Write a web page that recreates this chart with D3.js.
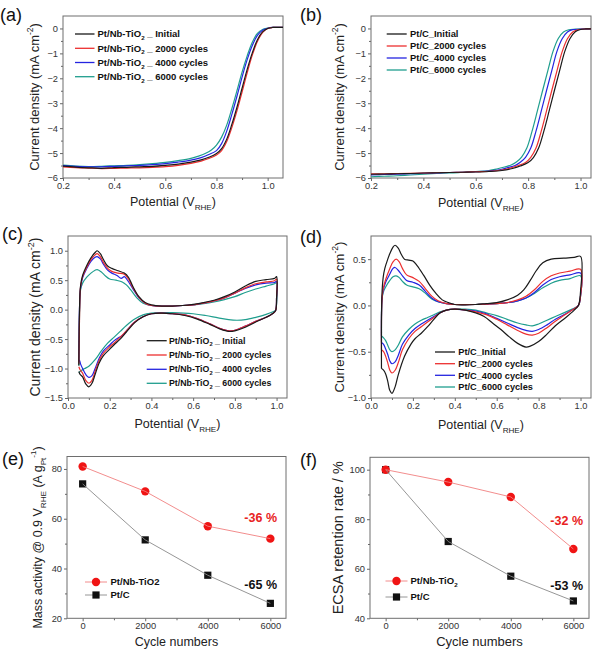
<!DOCTYPE html>
<html>
<head>
<meta charset="utf-8">
<script src="https://cdn.jsdelivr.net/npm/d3@7"></script>
<style>
  body { margin: 0; background: #fff; }
  svg { display: block; font-family: "Liberation Sans", Arial, sans-serif; }
  .tick text { fill: #333; }
  .tick line { stroke: #666; }
</style>
</head>
<body>
<div id="chart"></div>
<script>
// ---- (a) LSV, Pt/Nb-TiO2 : [potential V, current mA cm-2]
var nbLsvInitial = [[0.20,-5.52],[0.25,-5.56],[0.30,-5.59],[0.35,-5.61],[0.40,-5.58],[0.45,-5.57],[0.50,-5.55],[0.55,-5.53],[0.60,-5.49],[0.65,-5.44],[0.70,-5.36],[0.74,-5.27],[0.77,-5.17],[0.80,-5.02],[0.82,-4.82],[0.84,-4.44],[0.86,-3.85],[0.88,-3.16],[0.90,-2.40],[0.92,-1.64],[0.94,-0.98],[0.96,-0.45],[0.98,-0.14],[1.00,0.00],[1.02,0.04],[1.06,0.04]];
var nbLsv2000 = [[0.20,-5.55],[0.25,-5.58],[0.30,-5.60],[0.35,-5.62],[0.40,-5.61],[0.45,-5.60],[0.50,-5.59],[0.55,-5.57],[0.60,-5.54],[0.65,-5.49],[0.70,-5.41],[0.74,-5.32],[0.77,-5.22],[0.80,-5.08],[0.82,-4.90],[0.84,-4.54],[0.86,-3.98],[0.88,-3.31],[0.90,-2.55],[0.92,-1.78],[0.94,-1.07],[0.96,-0.52],[0.98,-0.17],[1.00,0.00],[1.02,0.04],[1.06,0.04]];
var nbLsv4000 = [[0.20,-5.50],[0.25,-5.53],[0.30,-5.55],[0.35,-5.55],[0.40,-5.53],[0.45,-5.51],[0.50,-5.49],[0.55,-5.46],[0.60,-5.42],[0.65,-5.36],[0.70,-5.28],[0.74,-5.18],[0.77,-5.06],[0.80,-4.90],[0.82,-4.62],[0.84,-4.12],[0.86,-3.45],[0.88,-2.72],[0.90,-1.95],[0.92,-1.25],[0.94,-0.68],[0.96,-0.28],[0.98,-0.07],[1.00,0.01],[1.02,0.04],[1.06,0.04]];
var nbLsv6000 = [[0.20,-5.48],[0.25,-5.52],[0.30,-5.54],[0.35,-5.53],[0.40,-5.51],[0.45,-5.49],[0.50,-5.46],[0.55,-5.42],[0.60,-5.37],[0.65,-5.30],[0.70,-5.21],[0.73,-5.12],[0.76,-5.00],[0.78,-4.88],[0.80,-4.68],[0.82,-4.36],[0.84,-3.88],[0.86,-3.22],[0.88,-2.50],[0.90,-1.75],[0.92,-1.10],[0.94,-0.55],[0.96,-0.20],[0.98,-0.04],[1.00,0.01],[1.02,0.04],[1.06,0.04]];

// ---- (b) LSV, Pt/C
var ptcLsvInitial = [[0.20,-5.85],[0.25,-5.84],[0.30,-5.83],[0.35,-5.82],[0.40,-5.80],[0.45,-5.79],[0.50,-5.78],[0.55,-5.77],[0.60,-5.76],[0.65,-5.74],[0.70,-5.70],[0.74,-5.62],[0.77,-5.52],[0.80,-5.38],[0.82,-5.18],[0.84,-4.80],[0.86,-4.12],[0.88,-3.32],[0.90,-2.50],[0.92,-1.70],[0.94,-0.92],[0.96,-0.40],[0.98,-0.13],[1.00,-0.04],[1.02,-0.02],[1.04,-0.02]];
var ptcLsv2000 = [[0.20,-5.83],[0.25,-5.83],[0.30,-5.82],[0.35,-5.81],[0.40,-5.80],[0.45,-5.79],[0.50,-5.78],[0.55,-5.77],[0.60,-5.75],[0.65,-5.73],[0.70,-5.68],[0.73,-5.61],[0.76,-5.51],[0.79,-5.38],[0.81,-5.17],[0.83,-4.80],[0.85,-4.12],[0.87,-3.32],[0.89,-2.50],[0.91,-1.70],[0.93,-0.93],[0.95,-0.41],[0.97,-0.14],[0.99,-0.05],[1.02,-0.02],[1.04,-0.02]];
var ptcLsv4000 = [[0.20,-5.88],[0.25,-5.86],[0.30,-5.85],[0.35,-5.83],[0.40,-5.81],[0.45,-5.80],[0.50,-5.78],[0.55,-5.77],[0.60,-5.75],[0.65,-5.72],[0.70,-5.65],[0.72,-5.59],[0.75,-5.50],[0.77,-5.37],[0.79,-5.17],[0.81,-4.80],[0.83,-4.12],[0.85,-3.32],[0.87,-2.50],[0.89,-1.70],[0.91,-0.92],[0.93,-0.41],[0.95,-0.14],[0.97,-0.05],[1.00,-0.03],[1.04,-0.02]];
var ptcLsv6000 = [[0.20,-5.95],[0.25,-5.93],[0.30,-5.91],[0.35,-5.88],[0.40,-5.85],[0.45,-5.82],[0.50,-5.80],[0.55,-5.77],[0.60,-5.74],[0.65,-5.70],[0.68,-5.64],[0.71,-5.56],[0.735,-5.48],[0.755,-5.36],[0.775,-5.16],[0.795,-4.80],[0.815,-4.12],[0.835,-3.32],[0.855,-2.50],[0.875,-1.70],[0.895,-0.92],[0.915,-0.40],[0.935,-0.14],[0.955,-0.05],[0.98,-0.03],[1.04,-0.02]];

// ---- (c) CV, Pt/Nb-TiO2 (anodic sweep then cathodic sweep)
var nbCvInitial = [[0.052,-0.95],[0.055,0.0],[0.06,0.40],[0.07,0.58],[0.09,0.75],[0.11,0.88],[0.13,0.97],[0.14,1.0],[0.155,0.95],[0.17,0.85],[0.19,0.74],[0.21,0.70],[0.24,0.66],[0.27,0.62],[0.29,0.55],[0.31,0.40],[0.34,0.22],[0.37,0.12],[0.40,0.08],[0.45,0.06],[0.50,0.06],[0.55,0.07],[0.60,0.09],[0.65,0.12],[0.70,0.16],[0.75,0.22],[0.80,0.30],[0.85,0.40],[0.90,0.48],[0.95,0.51],[0.99,0.53],[1.0,0.56],[1.0,0.2],[0.995,-0.02],[0.98,-0.07],[0.95,-0.13],[0.90,-0.21],[0.85,-0.30],[0.80,-0.36],[0.77,-0.37],[0.73,-0.33],[0.68,-0.25],[0.62,-0.16],[0.56,-0.10],[0.50,-0.07],[0.45,-0.06],[0.40,-0.07],[0.36,-0.12],[0.32,-0.22],[0.28,-0.38],[0.25,-0.50],[0.22,-0.60],[0.20,-0.67],[0.17,-0.78],[0.15,-0.90],[0.13,-1.10],[0.115,-1.25],[0.10,-1.31],[0.085,-1.26],[0.07,-1.14],[0.058,-1.10],[0.052,-1.05]];
var nbCv2000 = [[0.052,-0.92],[0.056,0.0],[0.06,0.38],[0.07,0.56],[0.09,0.72],[0.11,0.85],[0.13,0.93],[0.14,0.95],[0.155,0.90],[0.17,0.80],[0.19,0.70],[0.21,0.65],[0.24,0.62],[0.27,0.60],[0.29,0.52],[0.31,0.38],[0.34,0.21],[0.37,0.11],[0.40,0.07],[0.45,0.06],[0.50,0.06],[0.55,0.07],[0.60,0.08],[0.65,0.11],[0.70,0.15],[0.75,0.20],[0.80,0.28],[0.85,0.37],[0.90,0.44],[0.95,0.47],[0.99,0.49],[1.0,0.52],[1.0,0.2],[0.995,-0.02],[0.98,-0.07],[0.95,-0.13],[0.90,-0.20],[0.85,-0.28],[0.80,-0.35],[0.77,-0.36],[0.73,-0.32],[0.68,-0.24],[0.62,-0.15],[0.56,-0.09],[0.50,-0.07],[0.45,-0.06],[0.40,-0.07],[0.36,-0.12],[0.32,-0.21],[0.28,-0.36],[0.25,-0.47],[0.22,-0.57],[0.20,-0.63],[0.17,-0.74],[0.15,-0.86],[0.13,-1.05],[0.115,-1.20],[0.10,-1.25],[0.085,-1.20],[0.07,-1.08],[0.058,-1.02],[0.052,-0.97]];
var nbCv4000 = [[0.052,-0.88],[0.055,0.0],[0.06,0.36],[0.07,0.54],[0.09,0.70],[0.11,0.82],[0.13,0.89],[0.14,0.90],[0.155,0.86],[0.17,0.77],[0.19,0.67],[0.21,0.62],[0.235,0.58],[0.255,0.53],[0.27,0.56],[0.285,0.50],[0.31,0.36],[0.34,0.20],[0.37,0.11],[0.40,0.07],[0.45,0.06],[0.50,0.06],[0.55,0.07],[0.60,0.08],[0.65,0.11],[0.70,0.15],[0.75,0.20],[0.80,0.28],[0.85,0.36],[0.90,0.42],[0.95,0.45],[0.99,0.46],[1.0,0.48],[1.0,0.2],[0.995,-0.02],[0.98,-0.07],[0.95,-0.13],[0.90,-0.20],[0.85,-0.28],[0.80,-0.35],[0.77,-0.36],[0.73,-0.32],[0.68,-0.24],[0.62,-0.15],[0.56,-0.09],[0.50,-0.07],[0.45,-0.06],[0.40,-0.07],[0.36,-0.12],[0.32,-0.21],[0.28,-0.36],[0.26,-0.44],[0.24,-0.48],[0.22,-0.53],[0.20,-0.60],[0.17,-0.70],[0.15,-0.82],[0.13,-1.0],[0.115,-1.12],[0.10,-1.15],[0.085,-1.10],[0.07,-1.0],[0.06,-0.92],[0.055,-0.86],[0.052,-0.88]];
var nbCv6000 = [[0.052,-0.95],[0.056,0.0],[0.06,0.33],[0.07,0.45],[0.09,0.55],[0.11,0.62],[0.13,0.67],[0.14,0.68],[0.16,0.64],[0.18,0.57],[0.20,0.52],[0.23,0.50],[0.26,0.47],[0.28,0.42],[0.30,0.34],[0.33,0.20],[0.36,0.11],[0.40,0.07],[0.45,0.06],[0.50,0.06],[0.55,0.07],[0.60,0.08],[0.65,0.10],[0.70,0.13],[0.75,0.17],[0.80,0.22],[0.85,0.29],[0.90,0.35],[0.95,0.40],[0.99,0.44],[1.0,0.46],[1.0,0.1],[0.995,-0.01],[0.98,-0.04],[0.95,-0.08],[0.90,-0.13],[0.85,-0.17],[0.81,-0.18],[0.77,-0.17],[0.72,-0.14],[0.66,-0.10],[0.60,-0.07],[0.50,-0.05],[0.44,-0.05],[0.40,-0.06],[0.36,-0.09],[0.32,-0.16],[0.28,-0.27],[0.25,-0.37],[0.22,-0.47],[0.19,-0.57],[0.16,-0.70],[0.13,-0.85],[0.10,-0.96],[0.08,-1.0],[0.065,-1.03],[0.052,-1.07]];

// ---- (d) CV, Pt/C
var ptcCvInitial = [[0.05,-0.68],[0.052,0.10],[0.058,0.30],[0.066,0.40],[0.08,0.50],[0.09,0.56],[0.105,0.63],[0.115,0.65],[0.13,0.62],[0.145,0.55],[0.16,0.50],[0.18,0.49],[0.20,0.48],[0.22,0.43],[0.25,0.33],[0.28,0.22],[0.31,0.13],[0.34,0.06],[0.37,0.03],[0.40,0.01],[0.45,0.005],[0.50,0.01],[0.55,0.02],[0.60,0.03],[0.65,0.06],[0.70,0.11],[0.73,0.17],[0.76,0.27],[0.79,0.38],[0.82,0.46],[0.86,0.50],[0.92,0.51],[0.97,0.52],[1.0,0.53],[1.0,0.15],[0.99,0.0],[0.97,-0.05],[0.93,-0.13],[0.88,-0.22],[0.84,-0.31],[0.80,-0.39],[0.76,-0.44],[0.74,-0.45],[0.70,-0.41],[0.66,-0.34],[0.62,-0.26],[0.58,-0.19],[0.54,-0.12],[0.50,-0.08],[0.45,-0.05],[0.40,-0.04],[0.36,-0.05],[0.33,-0.08],[0.30,-0.15],[0.27,-0.23],[0.24,-0.30],[0.21,-0.36],[0.19,-0.42],[0.16,-0.55],[0.13,-0.75],[0.115,-0.88],[0.10,-0.95],[0.09,-0.92],[0.08,-0.82],[0.07,-0.74],[0.06,-0.70],[0.05,-0.68]];
var ptcCv2000 = [[0.05,-0.48],[0.052,0.05],[0.058,0.18],[0.07,0.28],[0.09,0.40],[0.105,0.47],[0.12,0.50],[0.135,0.47],[0.15,0.40],[0.17,0.33],[0.20,0.30],[0.23,0.26],[0.26,0.18],[0.29,0.10],[0.32,0.05],[0.36,0.02],[0.40,0.01],[0.50,0.01],[0.60,0.02],[0.65,0.03],[0.70,0.06],[0.74,0.10],[0.78,0.17],[0.82,0.26],[0.86,0.32],[0.90,0.35],[0.95,0.37],[1.0,0.39],[1.0,0.1],[0.99,0.0],[0.96,-0.05],[0.92,-0.11],[0.88,-0.17],[0.84,-0.24],[0.80,-0.30],[0.77,-0.32],[0.74,-0.31],[0.70,-0.27],[0.65,-0.21],[0.60,-0.15],[0.55,-0.10],[0.50,-0.07],[0.45,-0.05],[0.40,-0.04],[0.36,-0.05],[0.33,-0.08],[0.30,-0.13],[0.27,-0.18],[0.24,-0.23],[0.21,-0.28],[0.18,-0.36],[0.15,-0.48],[0.13,-0.62],[0.115,-0.70],[0.10,-0.73],[0.09,-0.70],[0.08,-0.62],[0.07,-0.55],[0.06,-0.50],[0.05,-0.48]];
var ptcCv4000 = [[0.05,-0.40],[0.052,0.05],[0.058,0.16],[0.07,0.25],[0.09,0.34],[0.105,0.40],[0.115,0.41],[0.13,0.38],[0.15,0.32],[0.17,0.27],[0.20,0.25],[0.23,0.22],[0.26,0.15],[0.29,0.08],[0.32,0.04],[0.36,0.02],[0.40,0.01],[0.50,0.01],[0.60,0.02],[0.65,0.03],[0.70,0.05],[0.74,0.08],[0.78,0.14],[0.82,0.22],[0.86,0.28],[0.90,0.31],[0.95,0.33],[1.0,0.35],[1.0,0.1],[0.99,0.0],[0.96,-0.05],[0.92,-0.10],[0.88,-0.15],[0.84,-0.21],[0.80,-0.26],[0.77,-0.28],[0.74,-0.27],[0.70,-0.24],[0.65,-0.19],[0.60,-0.14],[0.55,-0.09],[0.50,-0.06],[0.45,-0.05],[0.40,-0.04],[0.36,-0.05],[0.33,-0.08],[0.30,-0.12],[0.27,-0.16],[0.24,-0.20],[0.21,-0.25],[0.18,-0.32],[0.15,-0.42],[0.13,-0.54],[0.115,-0.61],[0.10,-0.63],[0.09,-0.60],[0.08,-0.53],[0.07,-0.47],[0.06,-0.42],[0.05,-0.40]];
var ptcCv6000 = [[0.05,-0.33],[0.052,0.05],[0.058,0.14],[0.07,0.20],[0.09,0.27],[0.105,0.31],[0.12,0.32],[0.135,0.30],[0.15,0.26],[0.17,0.22],[0.20,0.20],[0.23,0.18],[0.26,0.13],[0.29,0.07],[0.32,0.04],[0.36,0.02],[0.40,0.01],[0.50,0.01],[0.60,0.02],[0.65,0.03],[0.70,0.05],[0.74,0.08],[0.78,0.13],[0.82,0.19],[0.86,0.24],[0.90,0.27],[0.95,0.29],[1.0,0.32],[1.0,0.1],[0.99,0.0],[0.96,-0.04],[0.92,-0.08],[0.88,-0.12],[0.84,-0.16],[0.80,-0.20],[0.77,-0.22],[0.74,-0.21],[0.70,-0.19],[0.65,-0.15],[0.60,-0.11],[0.55,-0.08],[0.50,-0.05],[0.45,-0.04],[0.40,-0.04],[0.36,-0.05],[0.33,-0.07],[0.30,-0.10],[0.27,-0.13],[0.24,-0.16],[0.21,-0.20],[0.18,-0.26],[0.15,-0.34],[0.13,-0.43],[0.115,-0.48],[0.10,-0.50],[0.09,-0.48],[0.08,-0.43],[0.07,-0.38],[0.06,-0.35],[0.05,-0.33]];

// ---- (e), (f) degradation
var cycles = [0, 2000, 4000, 6000];
var massNb = [81, 71, 57, 52];
var massPtC = [74, 51.5, 37.3, 26];
var ecsaNb = [100, 95, 89, 68];
var ecsaPtC = [100, 71, 57, 47];

var seriesColors = ["#1a1a1a", "#ec2f2f", "#2424e0", "#1f9e8e"];
var nbLegend = ["Initial", "2000 cycles", "4000 cycles", "6000 cycles"];
var ptcLegend = ["Pt/C_Initial", "Pt/C_2000 cycles", "Pt/C_4000 cycles", "Pt/C_6000 cycles"];

var svg = d3.select("#chart").append("svg")
    .attr("width", 594)
    .attr("height", 652);

// writes text made of pieces; a piece can be "sub" or "sup"
function rich(sel, parts, size) {
    var shift = 0;
    parts.forEach(function (p) {
        var target = p[1] === "sub" ? size * 0.3 : p[1] === "sup" ? -size * 0.45 : 0;
        var ts = sel.append("tspan").text(p[0]).attr("dy", target - shift);
        if (p[1]) ts.attr("font-size", size * 0.65);
        shift = target;
    });
    return sel;
}

var clipId = 0;
function panel(c) {
    var x = d3.scaleLinear().domain(c.xDomain).range([c.left, c.right]);
    var y = d3.scaleLinear().domain(c.yDomain).range([c.bottom, c.top]);
    var g = svg.append("g");

    // minor ticks
    g.append("g").attr("transform", "translate(0," + c.bottom + ")")
        .call(d3.axisBottom(x).tickValues(c.xMinor).tickSize(2).tickFormat(""));
    g.append("g").attr("transform", "translate(" + c.left + ",0)")
        .call(d3.axisLeft(y).tickValues(c.yMinor).tickSize(2).tickFormat(""));
    // major ticks
    g.append("g").attr("transform", "translate(0," + c.bottom + ")")
        .call(d3.axisBottom(x).tickValues(c.xTicks).tickSize(3).tickPadding(1).tickFormat(c.xFmt))
        .attr("font-size", 9.3).attr("font-family", null);
    g.append("g").attr("transform", "translate(" + c.left + ",0)")
        .call(d3.axisLeft(y).tickValues(c.yTicks).tickSize(3).tickPadding(2).tickFormat(c.yFmt))
        .attr("font-size", 9.3).attr("font-family", null);
    g.selectAll(".domain").remove();

    g.append("rect")
        .attr("x", c.left).attr("y", c.top)
        .attr("width", c.right - c.left).attr("height", c.bottom - c.top)
        .attr("fill", "none").attr("stroke", "#6e6e6e").attr("stroke-width", 1);

    // panel letter
    g.append("text").attr("x", c.labelX).attr("y", c.labelY)
        .attr("font-size", 18).attr("fill", "#111").text(c.label);

    // axis titles
    rich(g.append("text")
        .attr("x", (c.left + c.right) / 2).attr("y", c.xTitleY)
        .attr("text-anchor", "middle").attr("font-size", c.xTitleSize || 12.5).attr("fill", "#222"),
        c.xTitle, c.xTitleSize || 12.5);
    rich(g.append("text")
        .attr("transform", "translate(" + c.yTitleX + "," + (c.top + c.bottom) / 2 + ") rotate(-90)")
        .attr("text-anchor", "middle").attr("font-size", c.yTitleSize).attr("fill", "#222"),
        c.yTitle, c.yTitleSize);

    var id = "clip" + (clipId++);
    svg.append("clipPath").attr("id", id).append("rect")
        .attr("x", c.left).attr("y", c.top)
        .attr("width", c.right - c.left).attr("height", c.bottom - c.top);
    var plot = svg.append("g").attr("clip-path", "url(#" + id + ")");
    return { x: x, y: y, g: g, plot: plot };
}

function drawCurves(p, list) {
    var line = d3.line()
        .x(function (d) { return p.x(d[0]); })
        .y(function (d) { return p.y(d[1]); })
        .curve(d3.curveCatmullRom.alpha(0.5));
    // draw last series first so the initial curve sits on top
    list.slice().reverse().forEach(function (pts, k) {
        var i = list.length - 1 - k;
        p.plot.append("path").datum(pts)
            .attr("d", line).attr("fill", "none")
            .attr("stroke", seriesColors[i]).attr("stroke-width", 1.2)
            .attr("stroke-linejoin", "round");
    });
}

function legend(p, L) {
    L.rows.forEach(function (yy, i) {
        p.g.append("line").attr("x1", L.x1).attr("x2", L.x2)
            .attr("y1", yy).attr("y2", yy)
            .attr("stroke", seriesColors[i]).attr("stroke-width", 1.3);
        var t = p.g.append("text").attr("x", L.tx).attr("y", yy + L.size * 0.35)
            .attr("font-size", L.size).attr("font-weight", "bold").attr("fill", "#111");
        if (L.nb) rich(t, [["Pt/Nb-TiO"], ["2", "sub"], [" _ " + nbLegend[i]]], L.size);
        else t.text(ptcLegend[i]);
    });
}

var fmt1 = d3.format(".1f");
var potTitle = [["Potential (V"], ["RHE", "sub"], [")"]];
var cdTitle = [["Current density (mA cm"], ["-2", "sup"], [")"]];

// (a)
var pa = panel({
    left: 63, right: 283, top: 16, bottom: 178,
    xDomain: [0.2, 1.06], yDomain: [-6, 0.5],
    xTicks: [0.2, 0.4, 0.6, 0.8, 1.0], xMinor: [0.3, 0.5, 0.7, 0.9],
    yTicks: [-6, -5, -4, -3, -2, -1, 0], yMinor: [-5.5, -4.5, -3.5, -2.5, -1.5, -0.5],
    xFmt: fmt1, yFmt: d3.format("d"),
    label: "(a)", labelX: 0, labelY: 21,
    xTitle: potTitle, xTitleY: 206, yTitle: cdTitle, yTitleX: 39, yTitleSize: 13
});
drawCurves(pa, [nbLsvInitial, nbLsv2000, nbLsv4000, nbLsv6000]);
legend(pa, { x1: 75, x2: 94.5, tx: 97.5, rows: [34, 48.3, 62.5, 76.7], size: 9.5, nb: true });

// (b)
var pb = panel({
    left: 371, right: 591, top: 16, bottom: 178,
    xDomain: [0.2, 1.04], yDomain: [-6, 0.5],
    xTicks: [0.2, 0.4, 0.6, 0.8, 1.0], xMinor: [0.3, 0.5, 0.7, 0.9],
    yTicks: [-6, -5, -4, -3, -2, -1, 0], yMinor: [-5.5, -4.5, -3.5, -2.5, -1.5, -0.5],
    xFmt: fmt1, yFmt: d3.format("d"),
    label: "(b)", labelX: 300, labelY: 21,
    xTitle: potTitle, xTitleY: 207, yTitle: cdTitle, yTitleX: 344, yTitleSize: 13
});
drawCurves(pb, [ptcLsvInitial, ptcLsv2000, ptcLsv4000, ptcLsv6000]);
legend(pb, { x1: 386.7, x2: 406.7, tx: 410, rows: [34, 46, 58, 70], size: 9.4, nb: false });

// (c)
var pc = panel({
    left: 68, right: 287, top: 236, bottom: 398,
    xDomain: [0, 1.05], yDomain: [-1.5, 1.25],
    xTicks: [0, 0.2, 0.4, 0.6, 0.8, 1.0], xMinor: [0.1, 0.3, 0.5, 0.7, 0.9],
    yTicks: [-1.5, -1.0, -0.5, 0, 0.5, 1.0], yMinor: [-1.25, -0.75, -0.25, 0.25, 0.75],
    xFmt: fmt1, yFmt: fmt1,
    label: "(c)", labelX: 2, labelY: 240,
    xTitle: potTitle, xTitleY: 428, yTitle: cdTitle, yTitleX: 40, yTitleSize: 14
});
drawCurves(pc, [nbCvInitial, nbCv2000, nbCv4000, nbCv6000]);
legend(pc, { x1: 146.7, x2: 166.7, tx: 169, rows: [340.7, 355, 369.3, 383.3], size: 8.8, nb: true });

// (d)
var pd = panel({
    left: 371, right: 591, top: 236, bottom: 398,
    xDomain: [0, 1.05], yDomain: [-1.0, 0.75],
    xTicks: [0, 0.2, 0.4, 0.6, 0.8, 1.0], xMinor: [0.1, 0.3, 0.5, 0.7, 0.9],
    yTicks: [-1.0, -0.5, 0, 0.5], yMinor: [-0.75, -0.25, 0.25],
    xFmt: fmt1, yFmt: fmt1,
    label: "(d)", labelX: 300, labelY: 243,
    xTitle: potTitle, xTitleY: 429, yTitle: cdTitle, yTitleX: 344, yTitleSize: 13.3
});
drawCurves(pd, [ptcCvInitial, ptcCv2000, ptcCv4000, ptcCv6000]);
legend(pd, { x1: 435, x2: 455, tx: 458.3, rows: [352, 363.7, 375.3, 387], size: 9.2, nb: false });

// degradation panels
function degradation(p, nb, ptc, L) {
    var line = d3.line()
        .x(function (d, i) { return p.x(cycles[i]); })
        .y(function (d) { return p.y(d); });
    p.plot.append("path").datum(ptc).attr("d", line)
        .attr("fill", "none").attr("stroke", "#8a8a8a").attr("stroke-width", 0.9);
    p.plot.append("path").datum(nb).attr("d", line)
        .attr("fill", "none").attr("stroke", "#f08080").attr("stroke-width", 0.9);
    p.g.selectAll(null).data(ptc).enter().append("rect")
        .attr("x", function (d, i) { return p.x(cycles[i]) - 3.6; })
        .attr("y", function (d) { return p.y(d) - 3.6; })
        .attr("width", 7.2).attr("height", 7.2).attr("fill", "#111");
    p.g.selectAll(null).data(nb).enter().append("circle")
        .attr("cx", function (d, i) { return p.x(cycles[i]); })
        .attr("cy", function (d) { return p.y(d); })
        .attr("r", 4.2).attr("fill", "#f01414");

    // legend
    p.g.append("line").attr("x1", L.x - 11).attr("x2", L.x + 11).attr("y1", L.y1).attr("y2", L.y1)
        .attr("stroke", "#f08080").attr("stroke-width", 0.9);
    p.g.append("circle").attr("cx", L.x).attr("cy", L.y1).attr("r", 4.2).attr("fill", "#f01414");
    p.g.append("line").attr("x1", L.x - 11).attr("x2", L.x + 11).attr("y1", L.y2).attr("y2", L.y2)
        .attr("stroke", "#8a8a8a").attr("stroke-width", 0.9);
    p.g.append("rect").attr("x", L.x - 3.6).attr("y", L.y2 - 3.6).attr("width", 7.2).attr("height", 7.2).attr("fill", "#111");
    rich(p.g.append("text").attr("x", L.tx).attr("y", L.y1 + 3.4)
        .attr("font-size", 9.5).attr("font-weight", "bold").attr("fill", "#111"), L.nbText, 9.5);
    p.g.append("text").attr("x", L.tx).attr("y", L.y2 + 3.4)
        .attr("font-size", 9.5).attr("font-weight", "bold").attr("fill", "#111").text("Pt/C");

    // loss annotations
    p.g.append("text").attr("x", L.ax).attr("y", L.a1y).attr("text-anchor", "end")
        .attr("font-size", 12.5).attr("font-weight", "bold").attr("fill", "#e82222").text(L.a1);
    p.g.append("text").attr("x", L.ax).attr("y", L.a2y).attr("text-anchor", "end")
        .attr("font-size", 12.5).attr("font-weight", "bold").attr("fill", "#111").text(L.a2);
}

var pe = panel({
    left: 67, right: 286, top: 456.5, bottom: 618.3,
    xDomain: [-500, 6500], yDomain: [20, 85],
    xTicks: cycles, xMinor: [1000, 3000, 5000],
    yTicks: [20, 40, 60, 80], yMinor: [30, 50, 70],
    xFmt: d3.format("d"), yFmt: d3.format("d"),
    label: "(e)", labelX: 2, labelY: 465,
    xTitle: [["Cycle numbers"]], xTitleY: 646,
    yTitle: [["Mass activity @ 0.9 V"], ["RHE", "sub"], [" (A g"], ["Pt", "sub"], ["-1", "sup"], [")"]],
    yTitleX: 42, yTitleSize: 12.5
});
degradation(pe, massNb, massPtC, {
    x: 96, y1: 582, y2: 595, tx: 110.5, nbText: [["Pt/Nb-TiO2"]],
    ax: 277, a1: "-36 %", a1y: 522, a2: "-65 %", a2y: 589
});

var pf = panel({
    left: 370, right: 589, top: 457.3, bottom: 618.3,
    xDomain: [-500, 6500], yDomain: [40, 105],
    xTicks: cycles, xMinor: [1000, 3000, 5000],
    yTicks: [40, 60, 80, 100], yMinor: [50, 70, 90],
    xFmt: d3.format("d"), yFmt: d3.format("d"),
    label: "(f)", labelX: 300, labelY: 466,
    xTitle: [["Cycle numbers"]], xTitleY: 646, xTitleSize: 13,
    yTitle: [["ECSA retention rate / %"]], yTitleX: 343, yTitleSize: 14.5
});
degradation(pf, ecsaNb, ecsaPtC, {
    x: 396.5, y1: 581, y2: 597, tx: 410.5, nbText: [["Pt/Nb-TiO"], ["2", "sub"]],
    ax: 583, a1: "-32 %", a1y: 525, a2: "-53 %", a2y: 590
});
</script>
</body>
</html>
